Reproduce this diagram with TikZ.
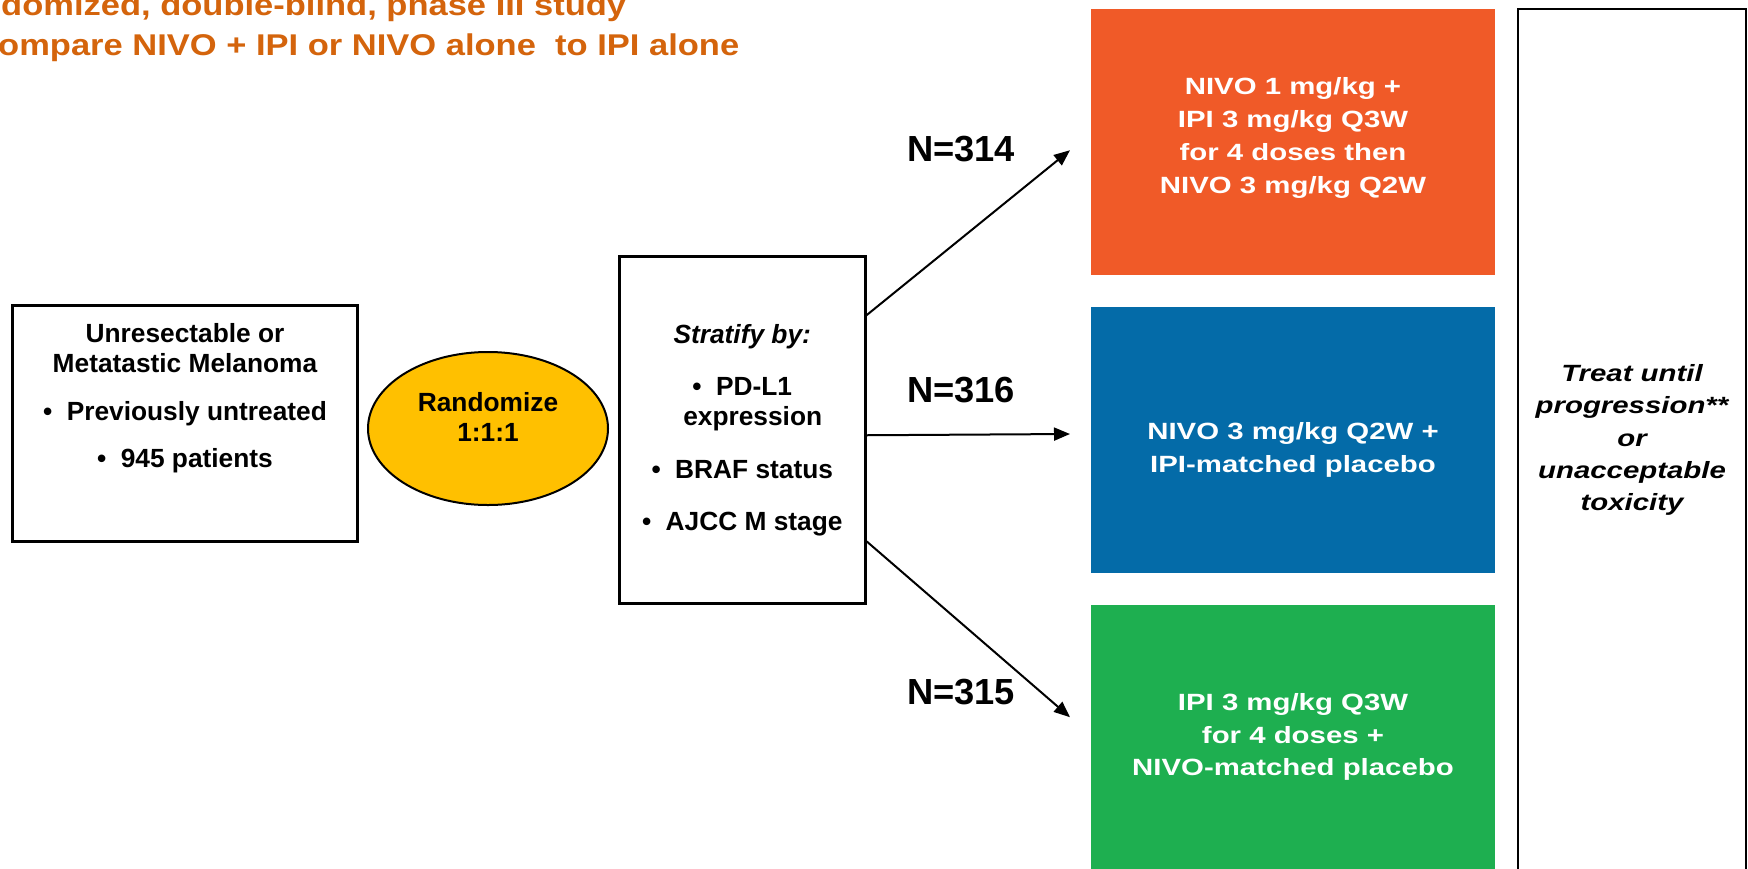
\documentclass[tikz,border=0pt]{standalone}
\usepackage{fontspec}
\setmainfont{Liberation Sans}
\newfontfamily\widefont{Liberation Sans}[FakeStretch=1.25]
\newfontfamily\titlefont{Liberation Sans}[FakeStretch=1.15]
\usetikzlibrary{arrows.meta,shapes.geometric}
\definecolor{titleorange}{RGB}{212,100,12}
\definecolor{armorange}{RGB}{240,90,40}
\definecolor{armblue}{RGB}{4,107,168}
\definecolor{armgreen}{RGB}{30,175,80}
\definecolor{randyellow}{RGB}{255,192,0}
\begin{document}
\begin{tikzpicture}[x=1pt,y=-1pt,
  plainbox/.style={draw=black,line width=2.5pt,fill=white,inner sep=0pt,anchor=north west},
  armbox/.style={draw=none,inner sep=0pt,anchor=north west,minimum width=404pt,minimum height=266pt},
  armtxt/.style={text=white,align=center,inner sep=0pt,font=\widefont\bfseries\fontsize{23.5pt}{32.8pt}\selectfont},
  bodytxt/.style={align=center,inner sep=0pt,font=\bfseries\fontsize{26.3pt}{30.5pt}\selectfont},
  ntxt/.style={inner sep=0pt,font=\bfseries\fontsize{36.3pt}{40pt}\selectfont},
  titletxt/.style={inner sep=0pt,anchor=base west,text=titleorange,font=\titlefont\bfseries\fontsize{30pt}{40pt}\selectfont},
  arr/.style={draw=black,line width=2pt,-{Triangle[length=16pt,width=13pt]}}
]
\useasboundingbox (0,0) rectangle (1748,868);
\fill[white] (0,0) rectangle (1748,868);

% title
\node[titletxt] (title1) at (1,15) {domized, double-blind, phase III study};
\node[titletxt] (title2) at (-2,55.5) {ompare NIVO + IPI or NIVO alone\ \ to IPI alone};

% population box
\node[plainbox,minimum width=345pt,minimum height=236pt] (pop) at (11,304) {};
\node[bodytxt] (poptxt) at (185,398) {Unresectable or\\Metatastic Melanoma\\[17pt]\textbullet\hspace{0.55em}Previously untreated\\[17pt]\textbullet\hspace{0.55em}945 patients};

% randomize ellipse
\node[ellipse,draw=black,line width=2pt,fill=randyellow,minimum width=240pt,minimum height=153pt,inner sep=0pt] (rand) at (488,428.5) {};
\node[bodytxt] (randtxt) at (488,417) {Randomize\\1:1:1};

% stratify box
\node[plainbox,minimum width=246pt,minimum height=347pt,align=center,font=\bfseries\fontsize{26.3pt}{30pt}\selectfont] (strat) at (618,255)
  {\textit{Stratify by:}\\[22pt]\textbullet\hspace{0.55em}PD-L1\\\hspace*{21pt}expression\\[23pt]\textbullet\hspace{0.55em}BRAF status\\[22pt]\textbullet\hspace{0.55em}AJCC M stage};

% arms
\node[armbox,fill=armorange] (armA) at (1091,9) {};
\node[armtxt] (armAtxt) at (1293,138) {NIVO 1 mg/kg +\\IPI 3 mg/kg Q3W\\for 4 doses then\\NIVO 3 mg/kg Q2W};
\node[armbox,fill=armblue] (armB) at (1091,306.5) {};
\node[armtxt] (armBtxt) at (1293,450) {NIVO 3 mg/kg Q2W +\\IPI-matched placebo};
\node[armbox,fill=armgreen] (armC) at (1091,605) {};
\node[armtxt] (armCtxt) at (1293,737) {IPI 3 mg/kg Q3W\\for 4 doses +\\NIVO-matched placebo};

% treat box
\node[draw=black,line width=2.2pt,fill=white,inner sep=0pt,anchor=north west,minimum width=228pt,minimum height=880pt] (treat) at (1517,8) {};
\node[inner sep=0pt,align=center,font=\widefont\bfseries\itshape\fontsize{23.5pt}{32.3pt}\selectfont] (treattxt) at (1632,440)
  {Treat until\\progression**\\or\\unacceptable\\toxicity};

% N labels
\node[ntxt] (n1) at (961,149) {N=314};
\node[ntxt] (n2) at (961,390) {N=316};
\node[ntxt] (n3) at (961,692) {N=315};

% arrows
\draw[arr] ([yshift=114.5pt]strat.east) -- ([xshift=-21pt,yshift=-8pt]armA.west);
\draw[arr] ([yshift=-5.5pt]strat.east) -- ([xshift=-21pt]armB.west |- 0,434);
\draw[arr] ([yshift=-111.5pt]strat.east) -- ([xshift=-21pt,yshift=21pt]armC.west);
\end{tikzpicture}
\end{document}
